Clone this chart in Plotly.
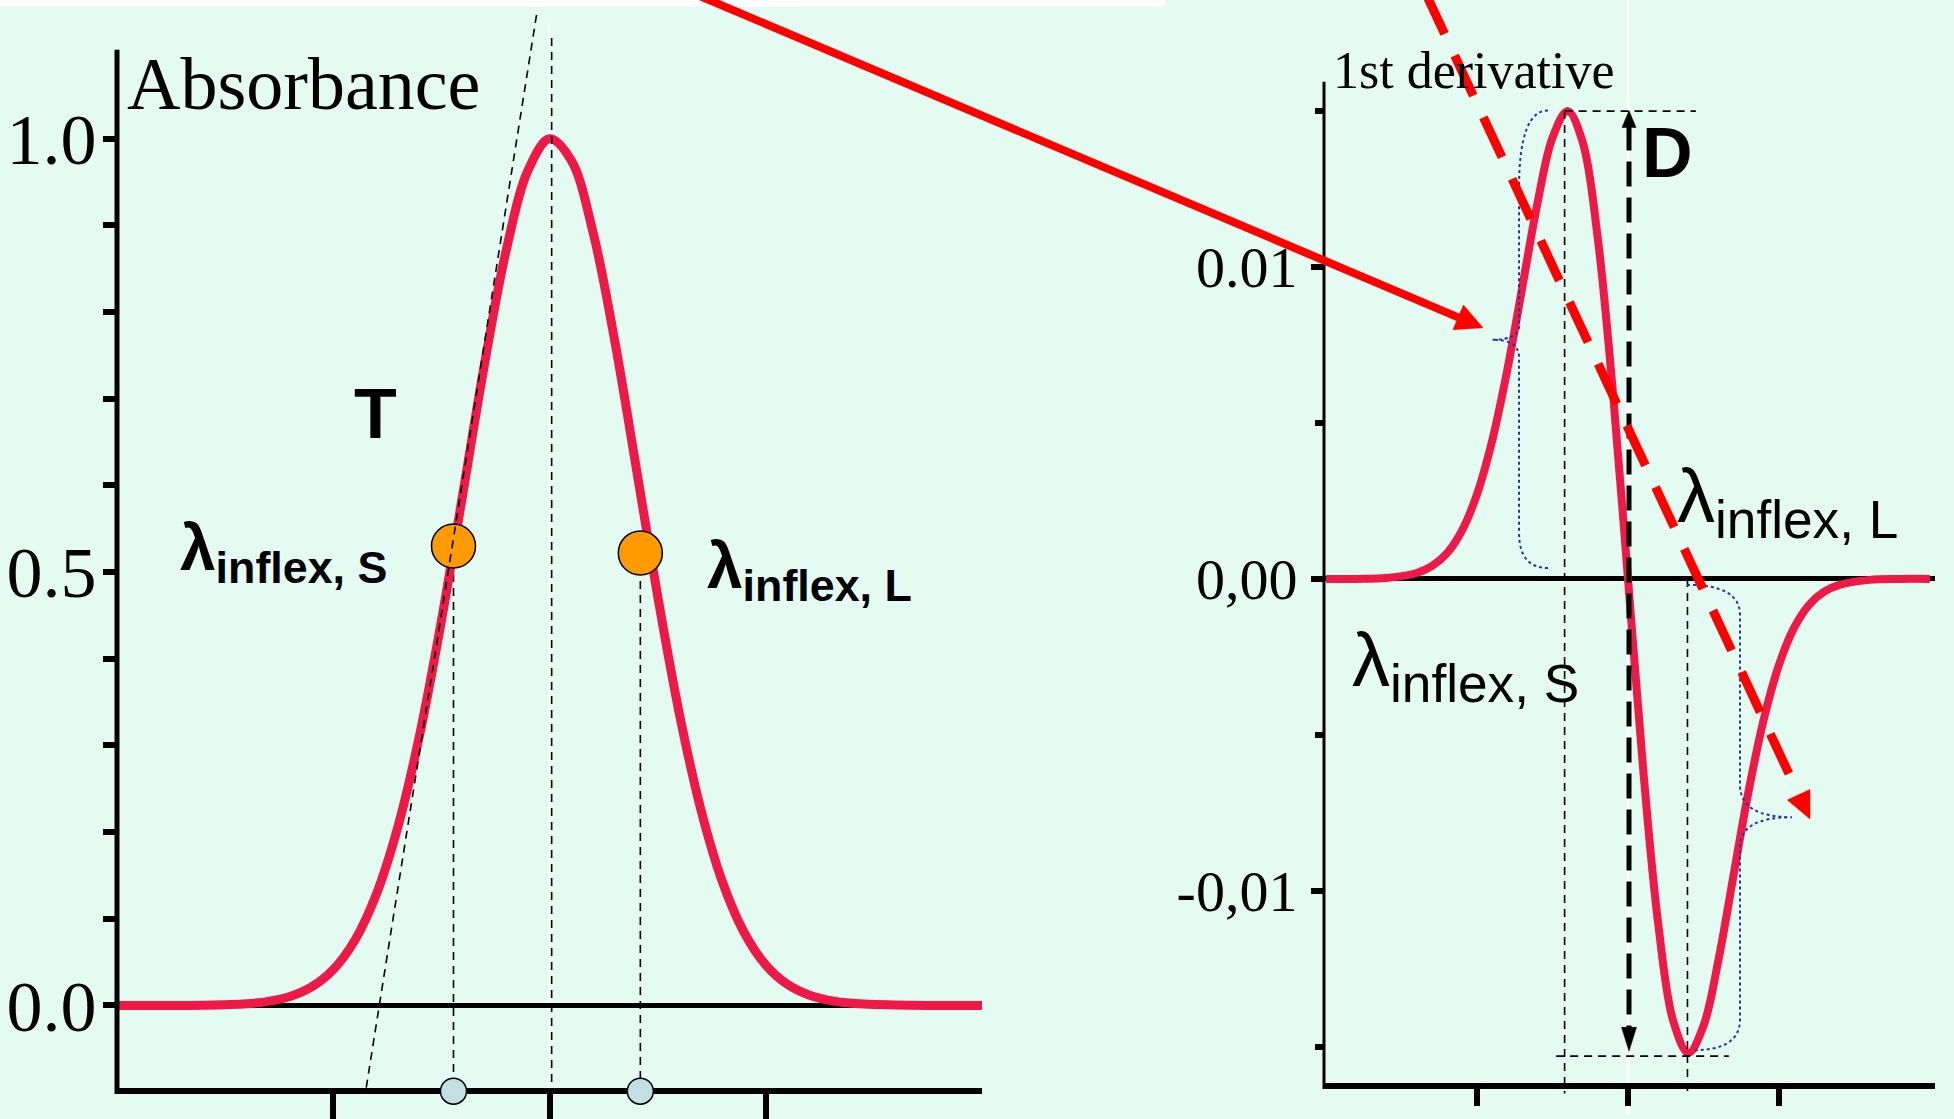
import math
import plotly.graph_objects as go

W, H = 1954, 1119

# ---- Data ----
wavelength = [250, 260, 270, 280, 285, 290, 295, 300, 305, 310, 315, 320, 325,
              330, 335, 340, 345, 350, 355, 360, 365, 370, 375, 380, 385, 390,
              395, 400, 405, 410, 415, 420, 430, 440, 450]
absorbance = [0.0, 0.0, 0.0003, 0.002, 0.0047, 0.0103, 0.0213, 0.0413, 0.0752,
              0.1287, 0.207, 0.3126, 0.4436, 0.5914, 0.7406, 0.8713, 0.9629,
              0.9997, 0.975, 0.8933, 0.7689, 0.6217, 0.4722, 0.337, 0.2259,
              0.1422, 0.0841, 0.0467, 0.0244, 0.012, 0.0055, 0.0024, 0.0004,
              0.0, 0.0]
first_derivative = [0.0, 0.0, 0.00003, 0.00019, 0.00041, 0.00082, 0.00155,
                    0.00272, 0.00443, 0.00669, 0.00936, 0.01204, 0.01415,
                    0.015, 0.014, 0.01091, 0.00599, 0.0, -0.00607, -0.01105,
                    -0.01418, -0.0152, -0.01433, -0.0122, -0.00948, -0.00678,
                    -0.00449, -0.00276, -0.00157, -0.00083, -0.00041, -0.00019,
                    -0.00003, 0.0, 0.0]

infl_wavelength = [327.8, 371.0]
infl_absorbance = [0.53, 0.522]
peak_wavelength = 350.5
# tangent through the short-wave inflection point (two ends)
tangent_wl = [347.0, 307.5]
tangent_abs = [1.1425, -0.0989]

deriv_max_wl, deriv_max = 329.0, 0.015
deriv_min_wl, deriv_min = 369.7, -0.0153
deriv_zero_wl = 350.3

wl_ticks = [300, 350, 400]
abs_ticks = [0.0, 0.5, 1.0]
abs_ticktext = ['0.0', '0.5', '1.0']
abs_minor = [0.1, 0.2, 0.3, 0.4, 0.6, 0.7, 0.8, 0.9]
der_ticks = [-0.01, 0.0, 0.01]
der_ticktext = ['-0,01', '0,00', '0.01']
der_minor = [-0.015, -0.005, 0.005, 0.015]

BG = '#E3FBF1'
RED = '#EF1948'
ARROW = '#FF0000'
BLUE = '#2535A8'

# left axis floor and right axis floor (data units)
abs_floor = -0.0989
der_floor = -0.0165


def px(x):
    return x / W


def py(y):
    return 1 - y / H


def arrow(x0, y0, x1, y1, width, head_len, head_w, color, dash='solid'):
    """Shaft + triangular head, given in pixel coordinates."""
    dx, dy = x1 - x0, y1 - y0
    n = math.hypot(dx, dy)
    ux, uy = dx / n, dy / n
    bx, by = x1 - ux * head_len, y1 - uy * head_len
    ex, ey = -uy * head_w / 2, ux * head_w / 2
    shaft = dict(type='line', xref='paper', yref='paper', x0=px(x0),
                 y0=py(y0), x1=px(bx + ux * 2), y1=py(by + uy * 2),
                 line=dict(color=color, width=width, dash=dash))
    head = dict(type='path', xref='paper', yref='paper',
                path='M {},{} L {},{} L {},{} Z'.format(
                    px(x1), py(y1), px(bx + ex), py(by + ey),
                    px(bx - ex), py(by - ey)),
                fillcolor=color, line=dict(color=color, width=0.5))
    return [shaft, head]


def main():
    fig = go.Figure()

    # ---- Absorbance panel ----
    fig.add_trace(go.Scatter(x=wavelength, y=absorbance, mode='lines',
                             line=dict(color=RED, width=9, shape='spline'),
                             xaxis='x', yaxis='y', hoverinfo='skip'))
    fig.add_trace(go.Scatter(x=infl_wavelength, y=infl_absorbance,
                             mode='markers', xaxis='x', yaxis='y',
                             marker=dict(size=44, color='#FF9A00',
                                         line=dict(color='black', width=1.5))))
    fig.add_trace(go.Scatter(x=infl_wavelength, y=[abs_floor] * 2,
                             mode='markers', xaxis='x', yaxis='y',
                             marker=dict(size=26, color='#C2E0E4',
                                         line=dict(color='black', width=1.5))))

    # ---- 1st derivative panel ----
    fig.add_trace(go.Scatter(x=wavelength, y=first_derivative, mode='lines',
                             line=dict(color=RED, width=8, shape='spline'),
                             xaxis='x2', yaxis='y2', hoverinfo='skip'))

    thin = dict(color='black', width=1.6, dash='8px,6px')
    dot = dict(color=BLUE, width=2, dash='dot')
    shapes = [
        # image artefacts: white band and white slits
        dict(type='rect', xref='paper', yref='paper', x0=0, x1=px(1165),
             y0=py(0), y1=py(7), fillcolor='white', line_width=0,
             layer='below'),
        dict(type='line', xref='paper', yref='paper', x0=px(549), x1=px(549),
             y0=py(21), y1=py(H), line=dict(color='white', width=2),
             layer='below'),
        dict(type='line', xref='paper', yref='paper', x0=px(1628),
             x1=px(1628), y0=py(0), y1=py(H),
             line=dict(color='white', width=3), layer='below'),
        # y axis lines
        dict(type='line', xref='paper', yref='paper', x0=px(117), x1=px(117),
             y0=py(50), y1=py(1098), line=dict(color='black', width=5)),
        dict(type='line', xref='paper', yref='paper', x0=px(1324),
             x1=px(1324), y0=py(82), y1=py(1093),
             line=dict(color='black', width=3)),
        # absorbance helper lines
        dict(type='line', xref='x', yref='y', x0=tangent_wl[0],
             x1=tangent_wl[1], y0=tangent_abs[0], y1=tangent_abs[1],
             line=thin),
        dict(type='line', xref='x', yref='y', x0=peak_wavelength,
             x1=peak_wavelength, y0=1.116, y1=-0.1264, line=thin),
    ]
    for wl, ab in zip(infl_wavelength, infl_absorbance):
        shapes.append(dict(type='line', xref='x', yref='y', x0=wl, x1=wl,
                           y0=ab, y1=abs_floor, line=thin, layer='below'))

    # derivative helper lines
    shapes += [
        dict(type='line', xref='x2', yref='y2', x0=deriv_max_wl,
             x1=deriv_max_wl, y0=deriv_max, y1=der_floor, line=thin),
        dict(type='line', xref='x2', yref='y2', x0=deriv_min_wl,
             x1=deriv_min_wl, y0=0, y1=der_floor, line=thin),
        dict(type='line', xref='x2', yref='y2', x0=deriv_max_wl, x1=372.5,
             y0=deriv_max, y1=deriv_max, line=thin),
        dict(type='line', xref='x2', yref='y2', x0=326.2, x1=383.4,
             y0=deriv_min, y1=deriv_min, line=thin),
    ]
    # curly braces (blue dotted)
    bx, tip = 313.9, 305.0
    left_brace = ('M 323.5,0.01502 Q {b},0.01502 {b},0.0125 L {b},0.0081 '
                  'Q {b},0.00767 {t},0.00767 Q {b},0.00767 {b},0.0071 '
                  'L {b},0.0015 Q {b},0.00035 323.5,0.00035'
                  ).format(b=bx, t=tip)
    bx, tip = 387.1, 404.3
    right_brace = ('M 369.5,-0.00019 Q {b},-0.00019 {b},-0.00115 '
                   'L {b},-0.0066 Q {b},-0.00764 {t},-0.00764 '
                   'Q {b},-0.00764 {b},-0.0086 L {b},-0.01412 '
                   'Q {b},-0.01511 371.9,-0.01511').format(b=bx, t=tip)
    shapes += [
        dict(type='path', xref='x2', yref='y2', path=left_brace, line=dot),
        dict(type='path', xref='x2', yref='y2', path=right_brace, line=dot),
    ]
    # D double arrow (dashed shaft, two heads)
    shapes.append(dict(type='line', xref='paper', yref='paper', x0=px(1629),
                       x1=px(1629), y0=py(126), y1=py(1036),
                       line=dict(color='black', width=5, dash='25px,11px')))
    shapes += arrow(1629, 135, 1629, 111, 0.1, 17, 14, 'black')[1:]
    shapes += arrow(1629, 1030, 1629, 1055, 0.1, 24, 15, 'black')[1:]
    # big red arrows
    shapes += arrow(1426, -6, 1810, 822, 9, 27, 25, ARROW, dash='44px,24px')
    shapes += arrow(695, -6, 1483, 329, 8, 27, 27, ARROW)

    annotations = []

    def label(text, x, y, size, family='Liberation Sans', xanchor='left'):
        annotations.append(dict(xref='paper', yref='paper', x=px(x), y=py(y),
                                text=text, showarrow=False, xanchor=xanchor,
                                yanchor='middle',
                                font=dict(family=family, size=size,
                                          color='black')))

    label('Absorbance', 125, 84, 74, family='Liberation Serif')
    label('1st derivative', 1331, 71, 52, family='Liberation Serif')
    label('<b>T</b>', 375, 415, 70, xanchor='center')
    label('<b>λ<sub>inflex, S</sub></b>', 178, 554, 64)
    label('<b>λ<sub>inflex, L</sub></b>', 705, 572, 64)
    label('λ<sub>inflex, L</sub>', 1675, 503, 76)
    label('λ<sub>inflex, S</sub>', 1350, 667, 76)
    label('<b>D</b>', 1667, 154, 70, xanchor='center')

    axis_common = dict(showgrid=False, ticks='outside', tickcolor='black')
    fig.update_layout(
        width=W, height=H, autosize=False,
        margin=dict(l=0, r=0, t=0, b=0),
        paper_bgcolor=BG, plot_bgcolor='rgba(0,0,0,0)', showlegend=False,
        xaxis=dict(domain=[px(117), px(982)], range=[250, 450],
                   anchor='free', position=1 - 1095 / H, showline=True,
                   linewidth=6, linecolor='black', tickmode='array',
                   tickvals=wl_ticks, ticklen=28, tickwidth=6,
                   showticklabels=False, zeroline=False,
                   layer='below traces', **axis_common),
        yaxis=dict(domain=[0, 1], range=[-0.1264, 1.1598], anchor='x',
                   showline=False, tickmode='array', tickvals=abs_ticks,
                   ticktext=abs_ticktext, ticklen=13, tickwidth=6,
                   minor=dict(tickmode='array', tickvals=abs_minor,
                              ticks='outside', ticklen=13, tickwidth=6,
                              tickcolor='black'),
                   tickfont=dict(family='Liberation Serif', size=72,
                                 color='black'),
                   ticklabelstandoff=-8, zeroline=True,
                   zerolinecolor='black', zerolinewidth=5,
                   layer='below traces', **axis_common),
        xaxis2=dict(domain=[px(1324), px(1935)], range=[249.3, 451.7],
                    anchor='free', position=1 - 1090 / H, showline=True,
                    linewidth=6, linecolor='black', tickmode='array',
                    tickvals=wl_ticks, ticklen=17, tickwidth=6,
                    showticklabels=False, zeroline=False,
                    layer='below traces', **axis_common),
        yaxis2=dict(domain=[0, 1], range=[-0.017188, 0.018562],
                    anchor='x2', showline=False, tickmode='array',
                    tickvals=der_ticks, ticktext=der_ticktext, ticklen=12,
                    tickwidth=6,
                    minor=dict(tickmode='array', tickvals=der_minor,
                               ticks='outside', ticklen=8, tickwidth=6,
                               tickcolor='black'),
                    tickfont=dict(family='Liberation Serif', size=58,
                                  color='black'),
                    ticklabelstandoff=2, zeroline=True,
                    zerolinecolor='black', zerolinewidth=5,
                    layer='below traces', **axis_common),
        shapes=shapes,
        annotations=annotations,
    )
    fig.write_html('out.html', config={'displayModeBar': False},
                   post_script="document.body.style.margin='0';"
                               "document.body.style.overflow='hidden';")


if __name__ == '__main__':
    main()
